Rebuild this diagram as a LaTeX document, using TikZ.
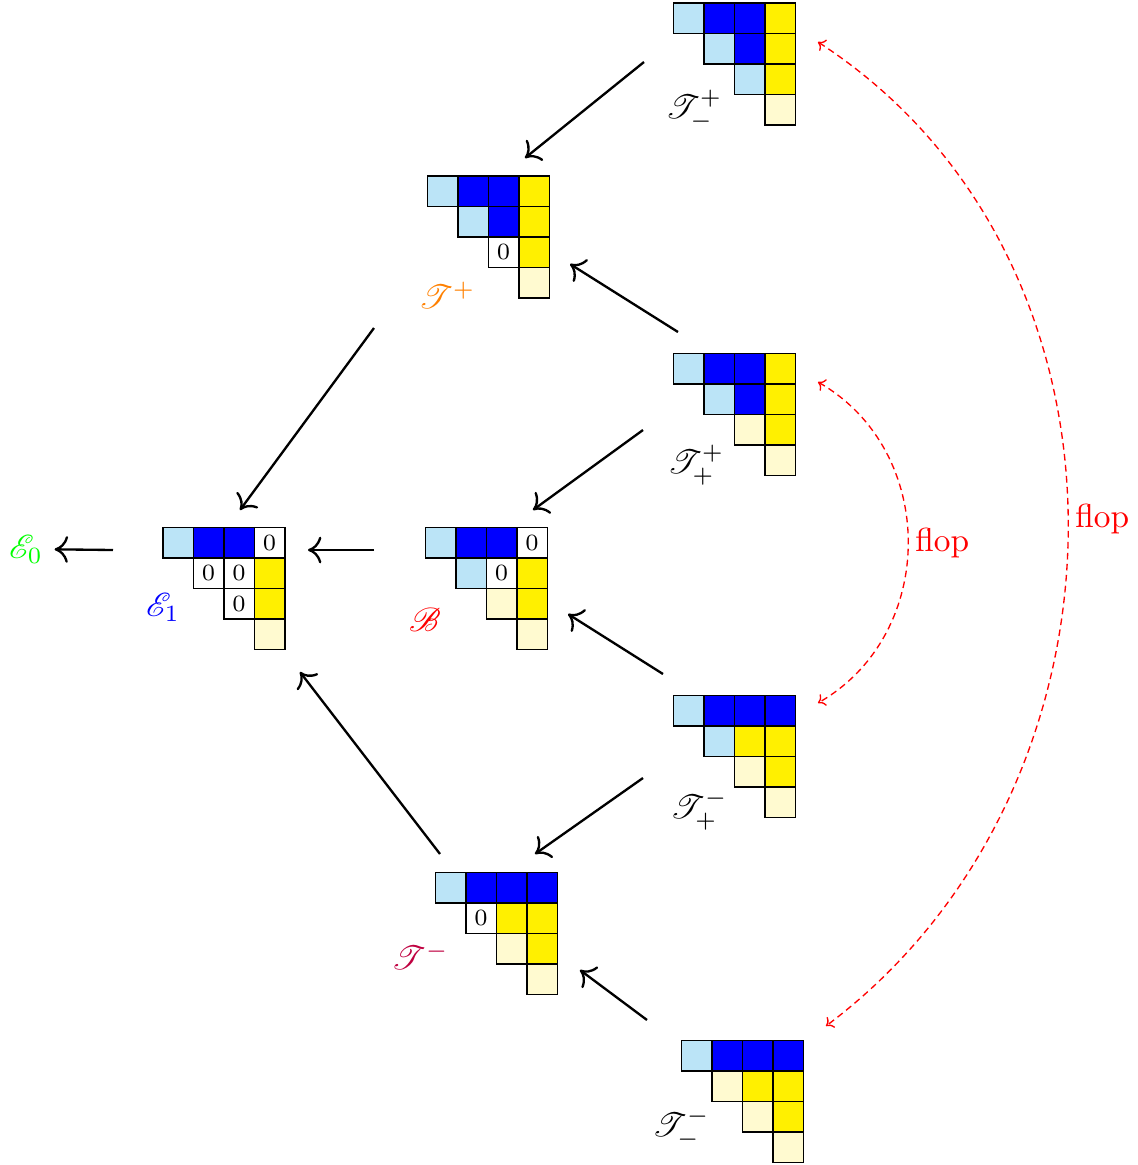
\documentclass[tikz,border=0pt]{standalone}
\usepackage{amsmath}
\usepackage{mathrsfs}
\usepackage{tikz}
\usetikzlibrary{arrows.meta}

\definecolor{lblue}{RGB}{187,228,247}
\definecolor{yel}{RGB}{255,240,0}
\definecolor{lyel}{RGB}{255,250,208}
\definecolor{orng}{RGB}{255,128,0}

\tikzset{
  cell/.style={draw, line width=0.4pt, minimum size=9.15pt, inner sep=0pt, font=\scriptsize},
  diag/.style={minimum size=36.6pt, inner sep=0pt},
  lbl/.style={inner sep=1pt},
  map/.style={-{Computer Modern Rightarrow[length=4pt,width=8pt]}, line width=0.7pt},
  flopmap/.style={{Computer Modern Rightarrow[length=2pt,width=4pt]}-{Computer Modern Rightarrow[length=2pt,width=4pt]}, red, dash pattern=on 2pt off 1.3pt, line width=0.4pt},
}

% cells of a staircase diagram: column/row/fill/entry
\newcommand{\young}[2]{%
  \foreach \cx/\ry/\fc/\tx in {#2}
    \node[cell, fill=\fc] (#1-\cx\ry) at ([shift={(30.5*\cx+15.25,-30.5*\ry-15.25)}]#1.north west) {\tx};
}

\begin{document}
\begin{tikzpicture}[x=0.3pt, y=0.3pt]
  \useasboundingbox (0,0) rectangle (1138,-1165);

  % diagrams
  \node[diag] (TMP) at (735,-64.5) {};
  \node[diag] (TP) at (489,-237.5) {};
  \node[diag] (TPP) at (735,-415) {};
  \node[diag] (E1) at (224.5,-589) {};
  \node[diag] (B) at (487,-589) {};
  \node[diag] (TPM) at (735,-757) {};
  \node[diag] (TM) at (497,-934) {};
  \node[diag] (TMM) at (743,-1102) {};

  \young{TMP}{0/0/lblue/{}, 1/0/blue/{}, 2/0/blue/{}, 3/0/yel/{},
    1/1/lblue/{}, 2/1/blue/{}, 3/1/yel/{}, 2/2/lblue/{}, 3/2/yel/{}, 3/3/lyel/{}}
  \young{TP}{0/0/lblue/{}, 1/0/blue/{}, 2/0/blue/{}, 3/0/yel/{},
    1/1/lblue/{}, 2/1/blue/{}, 3/1/yel/{}, 2/2/white/0, 3/2/yel/{}, 3/3/lyel/{}}
  \young{TPP}{0/0/lblue/{}, 1/0/blue/{}, 2/0/blue/{}, 3/0/yel/{},
    1/1/lblue/{}, 2/1/blue/{}, 3/1/yel/{}, 2/2/lyel/{}, 3/2/yel/{}, 3/3/lyel/{}}
  \young{E1}{0/0/lblue/{}, 1/0/blue/{}, 2/0/blue/{}, 3/0/white/0,
    1/1/white/0, 2/1/white/0, 3/1/yel/{}, 2/2/white/0, 3/2/yel/{}, 3/3/lyel/{}}
  \young{B}{0/0/lblue/{}, 1/0/blue/{}, 2/0/blue/{}, 3/0/white/0,
    1/1/lblue/{}, 2/1/white/0, 3/1/yel/{}, 2/2/lyel/{}, 3/2/yel/{}, 3/3/lyel/{}}
  \young{TPM}{0/0/lblue/{}, 1/0/blue/{}, 2/0/blue/{}, 3/0/blue/{},
    1/1/lblue/{}, 2/1/yel/{}, 3/1/yel/{}, 2/2/lyel/{}, 3/2/yel/{}, 3/3/lyel/{}}
  \young{TM}{0/0/lblue/{}, 1/0/blue/{}, 2/0/blue/{}, 3/0/blue/{},
    1/1/white/0, 2/1/yel/{}, 3/1/yel/{}, 2/2/lyel/{}, 3/2/yel/{}, 3/3/lyel/{}}
  \young{TMM}{0/0/lblue/{}, 1/0/blue/{}, 2/0/blue/{}, 3/0/blue/{},
    1/1/lyel/{}, 2/1/yel/{}, 3/1/yel/{}, 2/2/lyel/{}, 3/2/yel/{}, 3/3/lyel/{}}

  % labels
  \node[lbl] (TMPlab) at (694,-110) {$\mathscr{T}^+_-$};
  \node[lbl, text=orng] (TPlab) at (447,-295) {$\mathscr{T}^+$};
  \node[lbl] (TPPlab) at (696,-465) {$\mathscr{T}^+_+$};
  \node[lbl, text=blue] (E1lab) at (163,-607) {$\mathscr{E}_1$};
  \node[lbl, text=red] (Blab) at (425,-620) {$\mathscr{B}$};
  \node[lbl] (TPMlab) at (699,-810) {$\mathscr{T}^-_+$};
  \node[lbl, text=purple] (TMlab) at (420,-956) {$\mathscr{T}^-$};
  \node[lbl] (TMMlab) at (681,-1128) {$\mathscr{T}^-_-$};
  \node[text=green] (E0) at (26,-549) {$\mathscr{E}_0$};

  % maps
  \draw[map] ([shift={(-91,2.5)}]TMP.center) -- ([shift={(36,79.5)}]TP.center);
  \draw[map] ([shift={(-57,83)}]TPP.center) -- ([shift={(81,-26.5)}]TP.center);
  \draw[map] ([shift={(-92,-15)}]TPP.center) -- ([shift={(46,79)}]B.center);
  \draw[map] ([shift={(-115,-90.5)}]TP.center) -- ([shift={(15.5,79)}]E1.center);
  \draw[map] ([shift={(-113,39)}]B.center) -- ([shift={(83.5,39)}]E1.center);
  \draw[map] ([shift={(-111.5,39)}]E1.center) -- (E0);
  \draw[map] ([shift={(-72,83)}]TPM.center) -- ([shift={(81,-25)}]B.center);
  \draw[map] ([shift={(-92,-21)}]TPM.center) -- ([shift={(38,80)}]TM.center);
  \draw[map] ([shift={(-57,80)}]TM.center) -- ([shift={(75.5,-83)}]E1.center);
  \draw[map] ([shift={(-96,82)}]TMM.center) -- ([shift={(83,-36)}]TM.center);

  % flops
  \draw[flopmap] ([shift={(83,33)}]TPP.center) .. controls +(120,-69) and +(120,69) .. ([shift={(83,54)}]TPM.center)
    node[midway, right, inner sep=2pt] (flopin) {flop};
  \draw[flopmap] ([shift={(83,22.5)}]TMP.center) .. controls +(336,-218) and +(320,240) .. ([shift={(83,76)}]TMM.center)
    node[midway, right, inner sep=2pt, yshift=2pt] (flopout) {flop};
\end{tikzpicture}
\end{document}
